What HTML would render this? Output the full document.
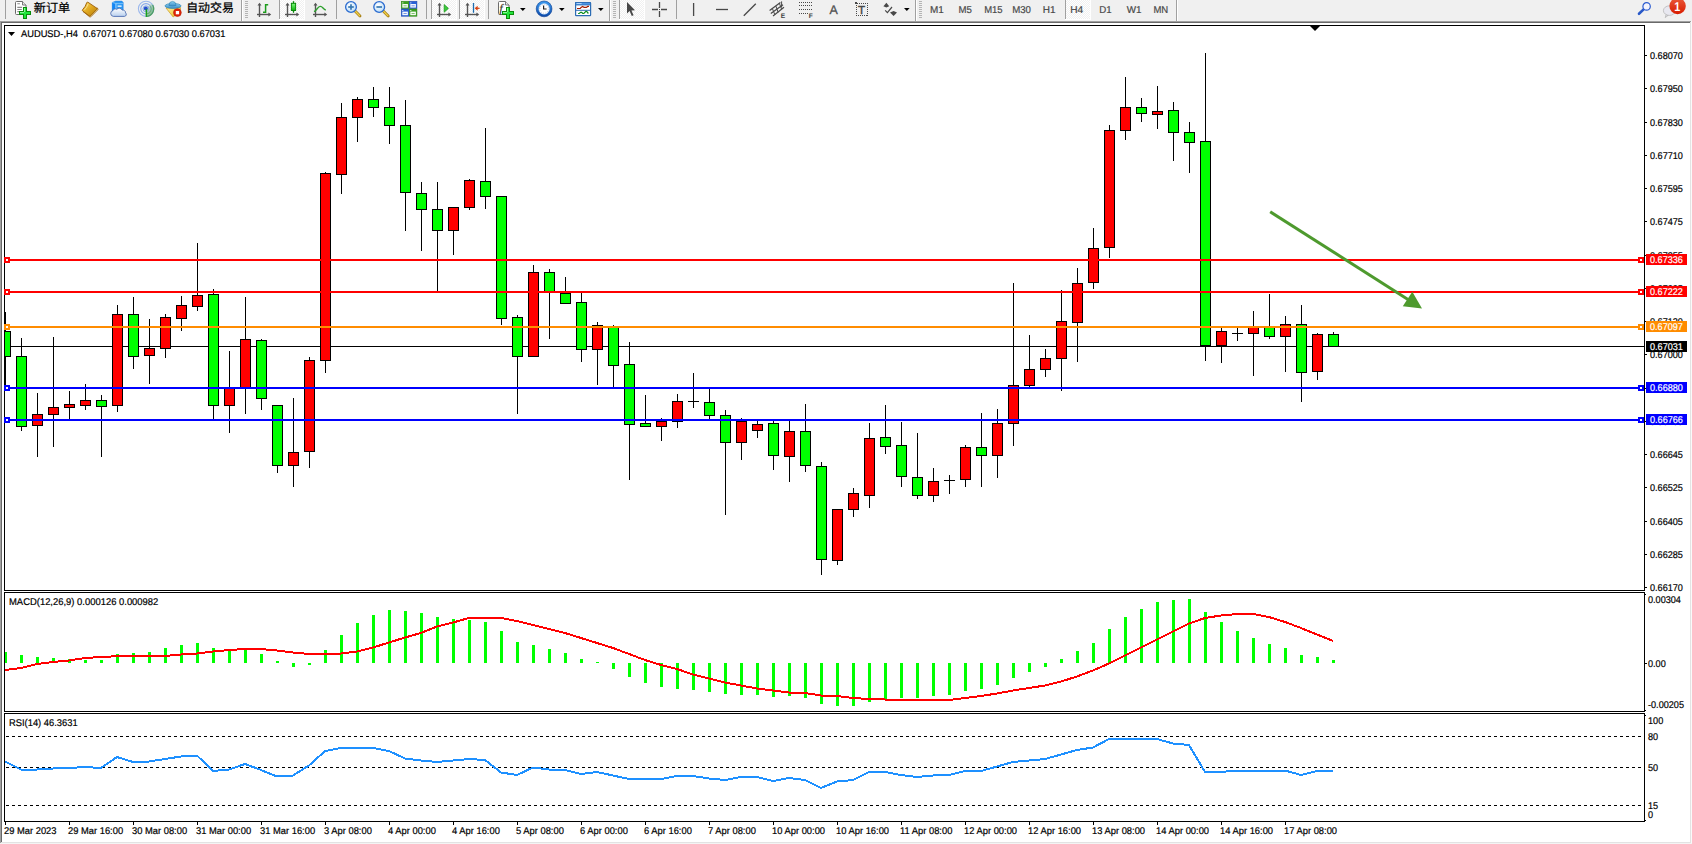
<!DOCTYPE html>
<html><head><meta charset="utf-8"><title>AUDUSD-,H4</title>
<style>
html,body{margin:0;padding:0;background:#fff;}
body{width:1692px;height:844px;overflow:hidden;position:relative;}
svg{position:absolute;left:0;top:0;display:block;}
text{font-family:"Liberation Sans", "Noto Sans CJK SC", sans-serif;text-rendering:geometricPrecision;}
.t{font-size:9.8px;fill:#000;stroke:#000;stroke-width:0.2px;}
.w{font-size:9.8px;fill:#fff;stroke:#fff;stroke-width:0.2px;}
.tf{font-size:10px;fill:#484848;stroke:#484848;stroke-width:0.2px;}
.cj{font-size:12px;fill:#000;stroke:#000;stroke-width:0.25px;}
</style></head><body>
<svg width="1692" height="844" viewBox="0 0 1692 844">
<g shape-rendering="crispEdges">
<rect x="0" y="0" width="1692" height="844" fill="#fff"/>
<rect x="0" y="0" width="1692" height="21" fill="#f0f0f0"/>
<rect x="0" y="21" width="1691" height="1" fill="#a0a0a0"/>
<rect x="0" y="21" width="1" height="822" fill="#a0a0a0"/>
<rect x="1" y="22" width="1689" height="1" fill="#696969"/>
<rect x="1" y="22" width="1" height="820" fill="#696969"/>
<rect x="1690" y="22" width="1" height="821" fill="#e3e3e3"/>
<rect x="1" y="842" width="1690" height="1" fill="#e3e3e3"/>
<rect x="1691" y="21" width="1" height="823" fill="#fafafa"/>
<rect x="0" y="843" width="1692" height="1" fill="#f4f4f4"/>
</g>
<defs>
<pattern id="chk" width="2" height="2" patternUnits="userSpaceOnUse"><rect width="2" height="2" fill="#f0f0f0"/><rect width="1" height="1" fill="#fff"/><rect x="1" y="1" width="1" height="1" fill="#fff"/></pattern>
<linearGradient id="gGreen" x1="0" y1="0" x2="0" y2="1"><stop offset="0" stop-color="#7dfa7d"/><stop offset="1" stop-color="#0cb40c"/></linearGradient>
<linearGradient id="gGold" x1="0" y1="0" x2="1" y2="1"><stop offset="0" stop-color="#f8d860"/><stop offset="0.5" stop-color="#e0a820"/><stop offset="1" stop-color="#b07808"/></linearGradient>
<linearGradient id="gBlue" x1="0" y1="0" x2="0" y2="1"><stop offset="0" stop-color="#5fb4f5"/><stop offset="1" stop-color="#1560c8"/></linearGradient>
<linearGradient id="gCloud" x1="0" y1="0" x2="0" y2="1"><stop offset="0" stop-color="#ffffff"/><stop offset="1" stop-color="#b8cfee"/></linearGradient>
<radialGradient id="gLens" cx="0.4" cy="0.35" r="0.7"><stop offset="0" stop-color="#ffffff"/><stop offset="1" stop-color="#b8dcf8"/></radialGradient>
<linearGradient id="gRed" x1="0" y1="0" x2="0" y2="1"><stop offset="0" stop-color="#ea5a3a"/><stop offset="1" stop-color="#d81c00"/></linearGradient>
<linearGradient id="gHat" x1="0" y1="0" x2="0" y2="1"><stop offset="0" stop-color="#8cd0f0"/><stop offset="1" stop-color="#3c8cc8"/></linearGradient>
<linearGradient id="gFace" x1="0" y1="0" x2="1" y2="1"><stop offset="0" stop-color="#fff0a0"/><stop offset="1" stop-color="#e8b818"/></linearGradient>
<linearGradient id="gClock" x1="0" y1="0" x2="0" y2="1"><stop offset="0" stop-color="#3c9cf0"/><stop offset="1" stop-color="#0c48a8"/></linearGradient>
<linearGradient id="gRadar" x1="0" y1="0" x2="1" y2="1"><stop offset="0" stop-color="#e8f0e8" stop-opacity="0.7"/><stop offset="1" stop-color="#48a848"/></linearGradient>
</defs>
<rect x="5" y="0" width="1" height="19" fill="#a0a0a0" shape-rendering="crispEdges"/>
<g>
<path d="M16.5 1.5h6l3.5 3.5v8.5q0 1-1 1h-8.5q-1 0-1-1v-11q0-1 1-1z" fill="#fff" stroke="#6c6c6c" stroke-width="1"/>
<path d="M22.5 1.5v3.5h3.5" fill="#e8e8e8" stroke="#6c6c6c" stroke-width="0.9"/>
<path d="M17.3 3.8h2.6M17.3 7.4h4.8M17.3 9.5h4.5M17.3 11.6h2" stroke="#8c8c8c" stroke-width="1.1"/>
<g shape-rendering="crispEdges">
<path d="M23 7h4v4h4v4h-4v4h-4v-4h-4v-4h4z" fill="#0a8c0a"/>
<path d="M24 8h2v4h4v2h-4v4h-2v-4h-4v-2h4z" fill="#22e43c"/>
<path d="M24 8h1v4h-1zM20 12h4v1h-4z" fill="#86f896"/>
</g>
</g>
<text x="33.8" y="11.8" class="cj" textLength="36.4" lengthAdjust="spacingAndGlyphs">新订单</text>
<g>
<path d="M83.2 11.6l6.4 5.2q0.6 0.4 1.2 0l7-7q0.4-0.6 0-1.2l-1-0.8-6.8 7z" fill="#f4e4a0" stroke="#9a5c08" stroke-width="0.8" stroke-linejoin="round"/>
<path d="M87.9 2.2l8.9 6q0.5 0.5 0.1 1l-6.5 6.7q-0.6 0.4-1.2 0l-6.6-5q-0.5-0.5-0.1-1.1q3-3 4.3-7.2q0.4-0.8 1.1-0.4z" fill="url(#gGold)" stroke="#9a5c08" stroke-width="0.9" stroke-linejoin="round"/>
<path d="M88.2 3.8q-1.2 3.6-3.8 6.2" stroke="#fff4b8" stroke-width="0.8" fill="none" opacity="0.8"/>
</g>
<g>
<path d="M112.3 2.4l3.4-1.3h6.2l1.3 1.3v9h-10.9z" fill="#2c98f4" stroke="#1c7ce0" stroke-width="0.5"/>
<path d="M112.3 2.4l3.4 1.2v8h-3.4z" fill="#1486f4"/>
<path d="M115.9 3.6v8" stroke="#d8f0ff" stroke-width="0.7"/>
<path d="M112.4 2.4l3.4 1.2h7.2" stroke="#a8dcff" stroke-width="0.6" fill="none"/>
<rect x="117.6" y="5.5" width="4" height="1.3" fill="#f4fbff"/>
<path d="M113.4 16.4a3 3 0 0 1-0.4-5.9 2.6 2.6 0 0 1 3.8-1.2 3.3 3.3 0 0 1 5.4 0.8 2.8 2.8 0 0 1 3.4 2.8 2 2 0 0 1-1.2 3.5z" fill="url(#gCloud)" stroke="#4c6cb0" stroke-width="0.9"/>
</g>
<g fill="none">
<path d="M146 8.8L146 17A8.2 8.2 0 0 0 151.8 3z" fill="url(#gRadar)" stroke="none"/>
<circle cx="146" cy="8.8" r="7.6" stroke="#9cb8ec" stroke-width="1.1"/>
<circle cx="146" cy="8.8" r="5.2" stroke="#86a8e8" stroke-width="1.1"/>
<circle cx="146" cy="8.8" r="3" stroke="#86a8e8" stroke-width="1"/>
<path d="M146 16.4a7.6 7.6 0 0 0 6.6-11.4" stroke="#4c9c64" stroke-width="1.2"/>
<path d="M146 14a5.2 5.2 0 0 0 4.5-7.8" stroke="#6cb078" stroke-width="1.1"/>
<circle cx="145.8" cy="8.6" r="2" fill="#2450d0"/>
<path d="M146.4 9.2v7.6" stroke="#18a018" stroke-width="1.5"/>
</g>
<g>
<path d="M166 8l14.6-0.4-0.8 4-6.6 5.4z" fill="url(#gFace)" stroke="#c89818" stroke-width="0.7" stroke-linejoin="round"/>
<ellipse cx="173" cy="5.9" rx="8" ry="2.5" fill="url(#gHat)" stroke="#2c84b4" stroke-width="0.7"/>
<path d="M168.9 5.4q0.2-4 3.6-4q3.4 0 3.6 4q-3.6 1.2-7.2 0z" fill="url(#gHat)" stroke="#2c84b4" stroke-width="0.6"/>
<circle cx="177.4" cy="12.6" r="3.9" fill="#e02408" stroke="#b81800" stroke-width="0.6"/>
<rect x="175.8" y="11" width="3.3" height="3.3" fill="#fff"/>
</g>
<text x="186.2" y="11.8" class="cj" textLength="47.6" lengthAdjust="spacingAndGlyphs">自动交易</text>
<rect x="241" y="0" width="1" height="21" fill="#a0a0a0" shape-rendering="crispEdges"/>
<rect x="242" y="0" width="1" height="21" fill="#fff" shape-rendering="crispEdges"/>
<g shape-rendering="crispEdges" fill="#b4b4b4">
<rect x="245" y="1" width="3" height="1"/>
<rect x="245" y="3" width="3" height="1"/>
<rect x="245" y="5" width="3" height="1"/>
<rect x="245" y="7" width="3" height="1"/>
<rect x="245" y="9" width="3" height="1"/>
<rect x="245" y="11" width="3" height="1"/>
<rect x="245" y="13" width="3" height="1"/>
<rect x="245" y="15" width="3" height="1"/>
<rect x="245" y="17" width="3" height="1"/>
</g>
<g fill="none" stroke="#555" stroke-width="1.4" stroke-linecap="butt">
<path d="M259.5 4.2V17"/>
<path d="M257.0 14.5H269.6"/>
</g>
<path d="M259.5 2.8l2 2.8h-4z" fill="#555"/>
<path d="M271.2 14.5l-2.8 -2v4z" fill="#555"/>
<path d="M263 12.2h2.6V4.8h2.6" fill="none" stroke="#1c9c1c" stroke-width="1.5"/>
<rect x="279" y="0" width="1" height="19" fill="#a0a0a0" shape-rendering="crispEdges"/>
<g shape-rendering="crispEdges">
<rect x="280" y="0" width="24" height="19" fill="url(#chk)"/>
<rect x="279" y="19" width="26" height="1" fill="#fff"/>
<rect x="304" y="0" width="1" height="20" fill="#fff"/>
</g>
<g fill="none" stroke="#555" stroke-width="1.4" stroke-linecap="butt">
<path d="M287.5 4.2V17"/>
<path d="M285.0 14.5H297.6"/>
</g>
<path d="M287.5 2.8l2 2.8h-4z" fill="#555"/>
<path d="M299.2 14.5l-2.8 -2v4z" fill="#555"/>
<path d="M293.5 1.2V12.8" stroke="#0a8a0a" stroke-width="1.3"/>
<rect x="291.4" y="3.3" width="4.2" height="7.2" fill="url(#gGreen)" stroke="#0a8a0a" stroke-width="1"/>
<g fill="none" stroke="#555" stroke-width="1.4" stroke-linecap="butt">
<path d="M315.5 4.2V17"/>
<path d="M313.0 14.5H325.6"/>
</g>
<path d="M315.5 2.8l2 2.8h-4z" fill="#555"/>
<path d="M327.2 14.5l-2.8 -2v4z" fill="#555"/>
<path d="M314 11.6c2.5-1 3.8-5 6.2-5.2s3 3.2 5.6 3.6" fill="none" stroke="#2ca02c" stroke-width="1.4"/>
<rect x="336" y="0" width="1" height="19" fill="#a0a0a0" shape-rendering="crispEdges"/>
<path d="M354.8 10.8l5.2 5.2" stroke="#a07810" stroke-width="2.8" stroke-linecap="round"/>
<path d="M355.1 11.1l4.6 4.6" stroke="#f0d048" stroke-width="1.4" stroke-linecap="round"/>
<circle cx="351.0" cy="7.0" r="5.4" fill="url(#gLens)" stroke="#2c6cd0" stroke-width="1.3"/>
<path d="M348.2 7.0h5.6" stroke="#3878b0" stroke-width="1.7"/>
<path d="M351.0 4.2v5.6" stroke="#3878b0" stroke-width="1.7"/>
<path d="M383.0 10.8l5.2 5.2" stroke="#a07810" stroke-width="2.8" stroke-linecap="round"/>
<path d="M383.3 11.1l4.6 4.6" stroke="#f0d048" stroke-width="1.4" stroke-linecap="round"/>
<circle cx="379.2" cy="7.0" r="5.4" fill="url(#gLens)" stroke="#2c6cd0" stroke-width="1.3"/>
<path d="M376.4 7.0h5.6" stroke="#3878b0" stroke-width="1.7"/>
<rect x="401.3" y="1.4" width="7.6" height="7.2" fill="#3aa020" stroke="#2c8414" stroke-width="0.6"/>
<rect x="402.3" y="4.0" width="5.6" height="3.6" fill="#fff" opacity="0.95"/>
<rect x="403.5" y="5.4" width="3.2" height="0.9" fill="#3aa020" opacity="0.7"/>
<rect x="402.3" y="2.4" width="1" height="1" fill="#fff"/>
<rect x="409.3" y="1.4" width="7.6" height="7.2" fill="#2860d8" stroke="#1c48b0" stroke-width="0.6"/>
<rect x="410.3" y="4.0" width="5.6" height="3.6" fill="#fff" opacity="0.95"/>
<rect x="411.5" y="5.4" width="3.2" height="0.9" fill="#2860d8" opacity="0.7"/>
<rect x="410.3" y="2.4" width="1" height="1" fill="#fff"/>
<rect x="401.3" y="9.0" width="7.6" height="7.2" fill="#2860d8" stroke="#1c48b0" stroke-width="0.6"/>
<rect x="402.3" y="11.6" width="5.6" height="3.6" fill="#fff" opacity="0.95"/>
<rect x="403.5" y="13.0" width="3.2" height="0.9" fill="#2860d8" opacity="0.7"/>
<rect x="402.3" y="10.0" width="1" height="1" fill="#fff"/>
<rect x="409.3" y="9.0" width="7.6" height="7.2" fill="#3aa020" stroke="#2c8414" stroke-width="0.6"/>
<rect x="410.3" y="11.6" width="5.6" height="3.6" fill="#fff" opacity="0.95"/>
<rect x="411.5" y="13.0" width="3.2" height="0.9" fill="#3aa020" opacity="0.7"/>
<rect x="410.3" y="10.0" width="1" height="1" fill="#fff"/>
<rect x="426" y="0" width="1" height="19" fill="#a0a0a0" shape-rendering="crispEdges"/>
<rect x="431" y="0" width="1" height="19" fill="#a0a0a0" shape-rendering="crispEdges"/>
<g shape-rendering="crispEdges">
<rect x="432" y="0" width="24" height="19" fill="url(#chk)"/>
<rect x="431" y="19" width="26" height="1" fill="#fff"/>
<rect x="456" y="0" width="1" height="20" fill="#fff"/>
</g>
<g fill="none" stroke="#555" stroke-width="1.4" stroke-linecap="butt">
<path d="M439.5 4.2V17"/>
<path d="M437.0 14.5H449.6"/>
</g>
<path d="M439.5 2.8l2 2.8h-4z" fill="#555"/>
<path d="M451.2 14.5l-2.8 -2v4z" fill="#555"/>
<polygon points="444.2,4.6 448.4,8.4 444.2,12.2" fill="#3cc83c" stroke="#1c9c1c" stroke-width="0.8"/>
<rect x="459" y="0" width="1" height="19" fill="#a0a0a0" shape-rendering="crispEdges"/>
<g shape-rendering="crispEdges">
<rect x="460" y="0" width="24" height="19" fill="url(#chk)"/>
<rect x="459" y="19" width="26" height="1" fill="#fff"/>
<rect x="484" y="0" width="1" height="20" fill="#fff"/>
</g>
<g fill="none" stroke="#555" stroke-width="1.4" stroke-linecap="butt">
<path d="M467.5 4.2V17"/>
<path d="M465.0 14.5H477.6"/>
</g>
<path d="M467.5 2.8l2 2.8h-4z" fill="#555"/>
<path d="M479.2 14.5l-2.8 -2v4z" fill="#555"/>
<path d="M473.5 3V12.8" stroke="#1c6cb0" stroke-width="1.3"/>
<path d="M479.6 8.3h-3" stroke="#d84010" stroke-width="1.2"/>
<polygon points="474.6,8.3 477.6,5.8 477.6,10.8" fill="#d84010"/>
<rect x="488" y="0" width="1" height="19" fill="#a0a0a0" shape-rendering="crispEdges"/>
<g>
<path d="M499.5 1.5h6l3.5 3.5v8.5q0 1-1 1h-8.5q-1 0-1-1v-11q0-1 1-1z" fill="#fff" stroke="#6c6c6c" stroke-width="1"/>
<path d="M505.5 1.5v3.5h3.5" fill="#e8e8e8" stroke="#6c6c6c" stroke-width="0.9"/>
<text x="499.6" y="11.6" style="font-family:'Liberation Serif',serif;font-style:italic;font-size:11.5px;fill:#3c3820;stroke:#3c3820;stroke-width:0.2px">f</text>
<g shape-rendering="crispEdges">
<path d="M506 7h4v4h4v4h-4v4h-4v-4h-4v-4h4z" fill="#0a8c0a"/>
<path d="M507 8h2v4h4v2h-4v4h-2v-4h-4v-2h4z" fill="#22e43c"/>
<path d="M507 8h1v4h-1zM503 12h4v1h-4z" fill="#86f896"/>
</g>
</g>
<polygon points="520,8 525.6,8 522.8,11.1" fill="#000"/>
<g>
<circle cx="544.1" cy="8.9" r="7.9" fill="url(#gClock)" stroke="#0c3c90" stroke-width="0.6"/>
<circle cx="544.1" cy="8.9" r="5.3" fill="#fff" stroke="#b8d4f4" stroke-width="0.5"/>
<path d="M543.6 5.4v3.6h3" fill="none" stroke="#202020" stroke-width="1.2"/>
<circle cx="544.1" cy="8.9" r="4.3" fill="none" stroke="#9098a8" stroke-width="0.8" stroke-dasharray="0.6 1.65"/>
</g>
<polygon points="559,8 564.6,8 561.8,11.1" fill="#000"/>
<g>
<rect x="575.6" y="2.6" width="15" height="13" rx="0.6" fill="#fff" stroke="#2c6cb4" stroke-width="1.2"/>
<rect x="575.6" y="2.6" width="15" height="2.4" fill="#4c94e4" stroke="#2c6cb4" stroke-width="0.8"/>
<path d="M576.6 3.5h5" stroke="#c8e4ff" stroke-width="0.8"/>
<path d="M575.6 10.3h15" stroke="#2c6cb4" stroke-width="1"/>
<path d="M577 8.5h3.2l0.8-1.1 1.7-1 1.4 1h2.2l1.4-1h1.3" fill="none" stroke="#a41c00" stroke-width="1.2"/>
<path d="M578.1 13.5h1.1l1.4-1.1h1.1l1 1.1h1.1l2.1-2.2h0.7l1.8 2.2" fill="none" stroke="#0c8c1c" stroke-width="1.2"/>
</g>
<polygon points="598,8 603.6,8 600.8,11.1" fill="#000"/>
<rect x="609" y="0" width="1" height="21" fill="#a0a0a0" shape-rendering="crispEdges"/>
<rect x="610" y="0" width="1" height="21" fill="#fff" shape-rendering="crispEdges"/>
<g shape-rendering="crispEdges" fill="#b4b4b4">
<rect x="613" y="1" width="3" height="1"/>
<rect x="613" y="3" width="3" height="1"/>
<rect x="613" y="5" width="3" height="1"/>
<rect x="613" y="7" width="3" height="1"/>
<rect x="613" y="9" width="3" height="1"/>
<rect x="613" y="11" width="3" height="1"/>
<rect x="613" y="13" width="3" height="1"/>
<rect x="613" y="15" width="3" height="1"/>
<rect x="613" y="17" width="3" height="1"/>
</g>
<rect x="619" y="0" width="1" height="19" fill="#a0a0a0" shape-rendering="crispEdges"/>
<g shape-rendering="crispEdges">
<rect x="620" y="0" width="24" height="19" fill="url(#chk)"/>
<rect x="619" y="19" width="26" height="1" fill="#fff"/>
<rect x="644" y="0" width="1" height="20" fill="#fff"/>
</g>
<path d="M627 2v11.4l2.6-2.4 2.2 5 1.8-0.8-2.2-4.8 3.6-0.2z" fill="#484848"/>
<path d="M659.5 2v6M659.5 11v6M652 9.5h6M661 9.5h6" stroke="#484848" stroke-width="1.3" fill="none"/>
<rect x="659" y="9" width="1" height="1" fill="#484848"/>
<rect x="676" y="0" width="1" height="19" fill="#a0a0a0" shape-rendering="crispEdges"/>
<path d="M693.6 3V16" stroke="#484848" stroke-width="1.3"/>
<path d="M716 9.5h12" stroke="#484848" stroke-width="1.3"/>
<path d="M743.8 15.8L755.8 3.8" stroke="#484848" stroke-width="1.3"/>
<g stroke="#484848" fill="none">
<path d="M769.6 10.6L780.4 2.4M770.8 13.6L783 4.8M773 16L784 7.2" stroke-width="1.2"/>
<path d="M772.4 8.6l2.4 6M775.8 6l2.4 6.4M779.4 3.4l2.2 5.8M781.6 1.4v6" stroke-width="1"/>
</g>
<text x="780.8" y="17.8" style="font-size:6.6px;font-weight:bold;fill:#404040">E</text>
<g stroke="#484848" stroke-width="1" stroke-dasharray="1 1" shape-rendering="crispEdges">
<path d="M799 2.5h13M799 5.5h13M799 9.5h13M799 13.5h9"/>
</g>
<text x="808.8" y="17.8" style="font-size:6.6px;font-weight:bold;fill:#404040">F</text>
<text x="829.6" y="13.8" style="font-size:12.4px;fill:#505050;stroke:#505050;stroke-width:0.3px">A</text>
<rect x="856.5" y="3.5" width="11" height="12" fill="none" stroke="#484848" stroke-width="1" stroke-dasharray="1 1" shape-rendering="crispEdges"/>
<rect x="855" y="2" width="2" height="2" fill="#484848" shape-rendering="crispEdges"/>
<text x="857.9" y="13.8" style="font-size:11.6px;fill:#484848;stroke:#484848;stroke-width:0.45px">T</text>
<g fill="#484848">
<polygon points="886.4,2.8 889.2,6.2 886.4,7.6 883.4,6.2"/>
<polygon points="893.6,16 897,12.4 893.6,11 890,12.4"/>
<path d="M885.2 10.4l2.2 2.2 4.6-5.6" fill="none" stroke="#484848" stroke-width="1.2"/>
</g>
<polygon points="904,8 909.6,8 906.8,11.1" fill="#000"/>
<rect x="915" y="0" width="1" height="21" fill="#a0a0a0" shape-rendering="crispEdges"/>
<rect x="916" y="0" width="1" height="21" fill="#fff" shape-rendering="crispEdges"/>
<g shape-rendering="crispEdges" fill="#b4b4b4">
<rect x="919" y="1" width="3" height="1"/>
<rect x="919" y="3" width="3" height="1"/>
<rect x="919" y="5" width="3" height="1"/>
<rect x="919" y="7" width="3" height="1"/>
<rect x="919" y="9" width="3" height="1"/>
<rect x="919" y="11" width="3" height="1"/>
<rect x="919" y="13" width="3" height="1"/>
<rect x="919" y="15" width="3" height="1"/>
<rect x="919" y="17" width="3" height="1"/>
</g>
<rect x="1065" y="0" width="1" height="19" fill="#a0a0a0" shape-rendering="crispEdges"/>
<g shape-rendering="crispEdges">
<rect x="1066" y="0" width="24" height="19" fill="url(#chk)"/>
<rect x="1065" y="19" width="26" height="1" fill="#fff"/>
<rect x="1090" y="0" width="1" height="20" fill="#fff"/>
</g>
<text x="930.0" y="12.8" class="tf" textLength="13.8" lengthAdjust="spacingAndGlyphs">M1</text>
<text x="958.4" y="12.8" class="tf" textLength="13.4" lengthAdjust="spacingAndGlyphs">M5</text>
<text x="984.2" y="12.8" class="tf" textLength="18.4" lengthAdjust="spacingAndGlyphs">M15</text>
<text x="1012.2" y="12.8" class="tf" textLength="18.8" lengthAdjust="spacingAndGlyphs">M30</text>
<text x="1042.8" y="12.8" class="tf" textLength="12.8" lengthAdjust="spacingAndGlyphs">H1</text>
<text x="1070.2" y="12.8" class="tf" textLength="13.0" lengthAdjust="spacingAndGlyphs">H4</text>
<text x="1099.2" y="12.8" class="tf" textLength="12.4" lengthAdjust="spacingAndGlyphs">D1</text>
<text x="1126.8" y="12.8" class="tf" textLength="14.8" lengthAdjust="spacingAndGlyphs">W1</text>
<text x="1153.4" y="12.8" class="tf" textLength="14.8" lengthAdjust="spacingAndGlyphs">MN</text>
<rect x="1176" y="0" width="1" height="21" fill="#a0a0a0" shape-rendering="crispEdges"/>
<rect x="1177" y="0" width="1" height="21" fill="#fff" shape-rendering="crispEdges"/>
<g>
<path d="M1643.6 9.4l-4.6 4.4" stroke="#2858c8" stroke-width="2.6" stroke-linecap="round"/>
<circle cx="1646.6" cy="6.4" r="3.7" fill="#f4f4fc" stroke="#2c5cd0" stroke-width="1.2"/>
</g>
<g>
<path d="M1666 14.6l-0.8 3 3.2-2.4z" fill="#e4e4ec" stroke="#a8a8a8" stroke-width="0.6"/>
<ellipse cx="1669.4" cy="10.6" rx="6" ry="4.8" fill="#e8e8f0" stroke="#b0b0b0" stroke-width="0.7"/>
<circle cx="1677.6" cy="6" r="8.2" fill="url(#gRed)"/>
<text transform="matrix(0.86 0 0 1 1674.3 10.8)" style="font-size:12.6px;font-weight:bold;fill:#fff">1</text>
</g>
<g shape-rendering="crispEdges" fill="#000">
<rect x="4" y="25" width="1641" height="1"/>
<rect x="4" y="25" width="1" height="566"/>
<rect x="4" y="590" width="1641" height="1"/>
<rect x="1644" y="25" width="1" height="566"/>
<rect x="1644" y="592" width="1" height="120"/>
<rect x="1644" y="713" width="1" height="109"/>
<rect x="4" y="592" width="1641" height="1"/>
<rect x="4" y="592" width="1" height="120"/>
<rect x="4" y="711" width="1641" height="1"/>
<rect x="4" y="713" width="1641" height="1"/>
<rect x="4" y="713" width="1" height="109"/>
<rect x="4" y="821" width="1641" height="1"/>
</g>
<polygon points="1310,26 1320,26 1315,31" fill="#000"/>
<defs><clipPath id="cp"><rect x="5" y="26" width="1639" height="564"/></clipPath></defs>
<g shape-rendering="crispEdges">
<rect x="5" y="346" width="1639" height="1" fill="#000"/>
</g>
<g shape-rendering="crispEdges" clip-path="url(#cp)">
<rect x="5" y="312" width="1" height="76" fill="#000"/>
<rect x="0" y="331" width="11" height="26" fill="#000"/>
<rect x="1" y="332" width="9" height="24" fill="#00ff00"/>
<rect x="21" y="338" width="1" height="93" fill="#000"/>
<rect x="16" y="356" width="11" height="71" fill="#000"/>
<rect x="17" y="357" width="9" height="69" fill="#00ff00"/>
<rect x="37" y="393" width="1" height="64" fill="#000"/>
<rect x="32" y="414" width="11" height="12" fill="#000"/>
<rect x="33" y="415" width="9" height="10" fill="#ff0000"/>
<rect x="53" y="337" width="1" height="110" fill="#000"/>
<rect x="48" y="407" width="11" height="8" fill="#000"/>
<rect x="49" y="408" width="9" height="6" fill="#ff0000"/>
<rect x="69" y="391" width="1" height="29" fill="#000"/>
<rect x="64" y="404" width="11" height="4" fill="#000"/>
<rect x="65" y="405" width="9" height="2" fill="#ff0000"/>
<rect x="85" y="384" width="1" height="26" fill="#000"/>
<rect x="80" y="400" width="11" height="6" fill="#000"/>
<rect x="81" y="401" width="9" height="4" fill="#ff0000"/>
<rect x="101" y="395" width="1" height="62" fill="#000"/>
<rect x="96" y="400" width="11" height="7" fill="#000"/>
<rect x="97" y="401" width="9" height="5" fill="#00ff00"/>
<rect x="117" y="305" width="1" height="107" fill="#000"/>
<rect x="112" y="314" width="11" height="92" fill="#000"/>
<rect x="113" y="315" width="9" height="90" fill="#ff0000"/>
<rect x="133" y="297" width="1" height="72" fill="#000"/>
<rect x="128" y="314" width="11" height="43" fill="#000"/>
<rect x="129" y="315" width="9" height="41" fill="#00ff00"/>
<rect x="149" y="319" width="1" height="65" fill="#000"/>
<rect x="144" y="348" width="11" height="8" fill="#000"/>
<rect x="145" y="349" width="9" height="6" fill="#ff0000"/>
<rect x="165" y="314" width="1" height="44" fill="#000"/>
<rect x="160" y="317" width="11" height="32" fill="#000"/>
<rect x="161" y="318" width="9" height="30" fill="#ff0000"/>
<rect x="181" y="296" width="1" height="35" fill="#000"/>
<rect x="176" y="305" width="11" height="14" fill="#000"/>
<rect x="177" y="306" width="9" height="12" fill="#ff0000"/>
<rect x="197" y="243" width="1" height="68" fill="#000"/>
<rect x="192" y="295" width="11" height="12" fill="#000"/>
<rect x="193" y="296" width="9" height="10" fill="#ff0000"/>
<rect x="213" y="289" width="1" height="130" fill="#000"/>
<rect x="208" y="294" width="11" height="112" fill="#000"/>
<rect x="209" y="295" width="9" height="110" fill="#00ff00"/>
<rect x="229" y="351" width="1" height="82" fill="#000"/>
<rect x="224" y="388" width="11" height="18" fill="#000"/>
<rect x="225" y="389" width="9" height="16" fill="#ff0000"/>
<rect x="245" y="297" width="1" height="117" fill="#000"/>
<rect x="240" y="339" width="11" height="50" fill="#000"/>
<rect x="241" y="340" width="9" height="48" fill="#ff0000"/>
<rect x="261" y="339" width="1" height="71" fill="#000"/>
<rect x="256" y="340" width="11" height="59" fill="#000"/>
<rect x="257" y="341" width="9" height="57" fill="#00ff00"/>
<rect x="277" y="405" width="1" height="68" fill="#000"/>
<rect x="272" y="405" width="11" height="61" fill="#000"/>
<rect x="273" y="406" width="9" height="59" fill="#00ff00"/>
<rect x="293" y="398" width="1" height="89" fill="#000"/>
<rect x="288" y="452" width="11" height="14" fill="#000"/>
<rect x="289" y="453" width="9" height="12" fill="#ff0000"/>
<rect x="309" y="357" width="1" height="111" fill="#000"/>
<rect x="304" y="360" width="11" height="92" fill="#000"/>
<rect x="305" y="361" width="9" height="90" fill="#ff0000"/>
<rect x="325" y="172" width="1" height="201" fill="#000"/>
<rect x="320" y="173" width="11" height="188" fill="#000"/>
<rect x="321" y="174" width="9" height="186" fill="#ff0000"/>
<rect x="341" y="103" width="1" height="91" fill="#000"/>
<rect x="336" y="117" width="11" height="58" fill="#000"/>
<rect x="337" y="118" width="9" height="56" fill="#ff0000"/>
<rect x="357" y="97" width="1" height="45" fill="#000"/>
<rect x="352" y="99" width="11" height="19" fill="#000"/>
<rect x="353" y="100" width="9" height="17" fill="#ff0000"/>
<rect x="373" y="87" width="1" height="30" fill="#000"/>
<rect x="368" y="99" width="11" height="9" fill="#000"/>
<rect x="369" y="100" width="9" height="7" fill="#00ff00"/>
<rect x="389" y="87" width="1" height="57" fill="#000"/>
<rect x="384" y="107" width="11" height="19" fill="#000"/>
<rect x="385" y="108" width="9" height="17" fill="#00ff00"/>
<rect x="405" y="100" width="1" height="131" fill="#000"/>
<rect x="400" y="125" width="11" height="68" fill="#000"/>
<rect x="401" y="126" width="9" height="66" fill="#00ff00"/>
<rect x="421" y="182" width="1" height="69" fill="#000"/>
<rect x="416" y="193" width="11" height="17" fill="#000"/>
<rect x="417" y="194" width="9" height="15" fill="#00ff00"/>
<rect x="437" y="182" width="1" height="109" fill="#000"/>
<rect x="432" y="209" width="11" height="22" fill="#000"/>
<rect x="433" y="210" width="9" height="20" fill="#00ff00"/>
<rect x="453" y="207" width="1" height="48" fill="#000"/>
<rect x="448" y="207" width="11" height="24" fill="#000"/>
<rect x="449" y="208" width="9" height="22" fill="#ff0000"/>
<rect x="469" y="179" width="1" height="31" fill="#000"/>
<rect x="464" y="180" width="11" height="28" fill="#000"/>
<rect x="465" y="181" width="9" height="26" fill="#ff0000"/>
<rect x="485" y="128" width="1" height="81" fill="#000"/>
<rect x="480" y="181" width="11" height="16" fill="#000"/>
<rect x="481" y="182" width="9" height="14" fill="#00ff00"/>
<rect x="501" y="196" width="1" height="129" fill="#000"/>
<rect x="496" y="196" width="11" height="123" fill="#000"/>
<rect x="497" y="197" width="9" height="121" fill="#00ff00"/>
<rect x="517" y="315" width="1" height="99" fill="#000"/>
<rect x="512" y="317" width="11" height="40" fill="#000"/>
<rect x="513" y="318" width="9" height="38" fill="#00ff00"/>
<rect x="533" y="265" width="1" height="92" fill="#000"/>
<rect x="528" y="272" width="11" height="85" fill="#000"/>
<rect x="529" y="273" width="9" height="83" fill="#ff0000"/>
<rect x="549" y="269" width="1" height="70" fill="#000"/>
<rect x="544" y="272" width="11" height="20" fill="#000"/>
<rect x="545" y="273" width="9" height="18" fill="#00ff00"/>
<rect x="565" y="277" width="1" height="27" fill="#000"/>
<rect x="560" y="293" width="11" height="11" fill="#000"/>
<rect x="561" y="294" width="9" height="9" fill="#00ff00"/>
<rect x="581" y="293" width="1" height="69" fill="#000"/>
<rect x="576" y="302" width="11" height="48" fill="#000"/>
<rect x="577" y="303" width="9" height="46" fill="#00ff00"/>
<rect x="597" y="322" width="1" height="63" fill="#000"/>
<rect x="592" y="325" width="11" height="25" fill="#000"/>
<rect x="593" y="326" width="9" height="23" fill="#ff0000"/>
<rect x="613" y="325" width="1" height="62" fill="#000"/>
<rect x="608" y="327" width="11" height="39" fill="#000"/>
<rect x="609" y="328" width="9" height="37" fill="#00ff00"/>
<rect x="629" y="342" width="1" height="138" fill="#000"/>
<rect x="624" y="364" width="11" height="61" fill="#000"/>
<rect x="625" y="365" width="9" height="59" fill="#00ff00"/>
<rect x="645" y="395" width="1" height="32" fill="#000"/>
<rect x="640" y="423" width="11" height="4" fill="#000"/>
<rect x="641" y="424" width="9" height="2" fill="#00ff00"/>
<rect x="661" y="418" width="1" height="23" fill="#000"/>
<rect x="656" y="421" width="11" height="6" fill="#000"/>
<rect x="657" y="422" width="9" height="4" fill="#ff0000"/>
<rect x="677" y="394" width="1" height="34" fill="#000"/>
<rect x="672" y="401" width="11" height="21" fill="#000"/>
<rect x="673" y="402" width="9" height="19" fill="#ff0000"/>
<rect x="693" y="373" width="1" height="35" fill="#000"/>
<rect x="688" y="401" width="11" height="1" fill="#000"/>
<rect x="709" y="388" width="1" height="31" fill="#000"/>
<rect x="704" y="402" width="11" height="14" fill="#000"/>
<rect x="705" y="403" width="9" height="12" fill="#00ff00"/>
<rect x="725" y="410" width="1" height="105" fill="#000"/>
<rect x="720" y="415" width="11" height="28" fill="#000"/>
<rect x="721" y="416" width="9" height="26" fill="#00ff00"/>
<rect x="741" y="418" width="1" height="42" fill="#000"/>
<rect x="736" y="421" width="11" height="22" fill="#000"/>
<rect x="737" y="422" width="9" height="20" fill="#ff0000"/>
<rect x="757" y="421" width="1" height="17" fill="#000"/>
<rect x="752" y="424" width="11" height="7" fill="#000"/>
<rect x="753" y="425" width="9" height="5" fill="#ff0000"/>
<rect x="773" y="421" width="1" height="49" fill="#000"/>
<rect x="768" y="423" width="11" height="33" fill="#000"/>
<rect x="769" y="424" width="9" height="31" fill="#00ff00"/>
<rect x="789" y="421" width="1" height="61" fill="#000"/>
<rect x="784" y="431" width="11" height="26" fill="#000"/>
<rect x="785" y="432" width="9" height="24" fill="#ff0000"/>
<rect x="805" y="404" width="1" height="68" fill="#000"/>
<rect x="800" y="431" width="11" height="35" fill="#000"/>
<rect x="801" y="432" width="9" height="33" fill="#00ff00"/>
<rect x="821" y="462" width="1" height="113" fill="#000"/>
<rect x="816" y="466" width="11" height="94" fill="#000"/>
<rect x="817" y="467" width="9" height="92" fill="#00ff00"/>
<rect x="837" y="509" width="1" height="56" fill="#000"/>
<rect x="832" y="509" width="11" height="52" fill="#000"/>
<rect x="833" y="510" width="9" height="50" fill="#ff0000"/>
<rect x="853" y="488" width="1" height="29" fill="#000"/>
<rect x="848" y="493" width="11" height="17" fill="#000"/>
<rect x="849" y="494" width="9" height="15" fill="#ff0000"/>
<rect x="869" y="423" width="1" height="85" fill="#000"/>
<rect x="864" y="438" width="11" height="58" fill="#000"/>
<rect x="865" y="439" width="9" height="56" fill="#ff0000"/>
<rect x="885" y="405" width="1" height="49" fill="#000"/>
<rect x="880" y="437" width="11" height="10" fill="#000"/>
<rect x="881" y="438" width="9" height="8" fill="#00ff00"/>
<rect x="901" y="422" width="1" height="65" fill="#000"/>
<rect x="896" y="445" width="11" height="32" fill="#000"/>
<rect x="897" y="446" width="9" height="30" fill="#00ff00"/>
<rect x="917" y="433" width="1" height="66" fill="#000"/>
<rect x="912" y="477" width="11" height="19" fill="#000"/>
<rect x="913" y="478" width="9" height="17" fill="#00ff00"/>
<rect x="933" y="468" width="1" height="34" fill="#000"/>
<rect x="928" y="481" width="11" height="15" fill="#000"/>
<rect x="929" y="482" width="9" height="13" fill="#ff0000"/>
<rect x="949" y="475" width="1" height="19" fill="#000"/>
<rect x="944" y="480" width="11" height="1" fill="#000"/>
<rect x="965" y="445" width="1" height="42" fill="#000"/>
<rect x="960" y="447" width="11" height="33" fill="#000"/>
<rect x="961" y="448" width="9" height="31" fill="#ff0000"/>
<rect x="981" y="413" width="1" height="74" fill="#000"/>
<rect x="976" y="447" width="11" height="9" fill="#000"/>
<rect x="977" y="448" width="9" height="7" fill="#00ff00"/>
<rect x="997" y="409" width="1" height="69" fill="#000"/>
<rect x="992" y="423" width="11" height="33" fill="#000"/>
<rect x="993" y="424" width="9" height="31" fill="#ff0000"/>
<rect x="1013" y="283" width="1" height="163" fill="#000"/>
<rect x="1008" y="385" width="11" height="39" fill="#000"/>
<rect x="1009" y="386" width="9" height="37" fill="#ff0000"/>
<rect x="1029" y="335" width="1" height="52" fill="#000"/>
<rect x="1024" y="369" width="11" height="17" fill="#000"/>
<rect x="1025" y="370" width="9" height="15" fill="#ff0000"/>
<rect x="1045" y="349" width="1" height="28" fill="#000"/>
<rect x="1040" y="358" width="11" height="12" fill="#000"/>
<rect x="1041" y="359" width="9" height="10" fill="#ff0000"/>
<rect x="1061" y="290" width="1" height="101" fill="#000"/>
<rect x="1056" y="321" width="11" height="38" fill="#000"/>
<rect x="1057" y="322" width="9" height="36" fill="#ff0000"/>
<rect x="1077" y="268" width="1" height="94" fill="#000"/>
<rect x="1072" y="283" width="11" height="40" fill="#000"/>
<rect x="1073" y="284" width="9" height="38" fill="#ff0000"/>
<rect x="1093" y="228" width="1" height="61" fill="#000"/>
<rect x="1088" y="248" width="11" height="35" fill="#000"/>
<rect x="1089" y="249" width="9" height="33" fill="#ff0000"/>
<rect x="1109" y="125" width="1" height="133" fill="#000"/>
<rect x="1104" y="130" width="11" height="118" fill="#000"/>
<rect x="1105" y="131" width="9" height="116" fill="#ff0000"/>
<rect x="1125" y="77" width="1" height="63" fill="#000"/>
<rect x="1120" y="107" width="11" height="24" fill="#000"/>
<rect x="1121" y="108" width="9" height="22" fill="#ff0000"/>
<rect x="1141" y="98" width="1" height="24" fill="#000"/>
<rect x="1136" y="107" width="11" height="7" fill="#000"/>
<rect x="1137" y="108" width="9" height="5" fill="#00ff00"/>
<rect x="1157" y="86" width="1" height="43" fill="#000"/>
<rect x="1152" y="111" width="11" height="4" fill="#000"/>
<rect x="1153" y="112" width="9" height="2" fill="#ff0000"/>
<rect x="1173" y="102" width="1" height="59" fill="#000"/>
<rect x="1168" y="110" width="11" height="23" fill="#000"/>
<rect x="1169" y="111" width="9" height="21" fill="#00ff00"/>
<rect x="1189" y="122" width="1" height="51" fill="#000"/>
<rect x="1184" y="132" width="11" height="11" fill="#000"/>
<rect x="1185" y="133" width="9" height="9" fill="#00ff00"/>
<rect x="1205" y="53" width="1" height="308" fill="#000"/>
<rect x="1200" y="141" width="11" height="205" fill="#000"/>
<rect x="1201" y="142" width="9" height="203" fill="#00ff00"/>
<rect x="1221" y="328" width="1" height="35" fill="#000"/>
<rect x="1216" y="331" width="11" height="15" fill="#000"/>
<rect x="1217" y="332" width="9" height="13" fill="#ff0000"/>
<rect x="1237" y="328" width="1" height="13" fill="#000"/>
<rect x="1232" y="333" width="11" height="1" fill="#000"/>
<rect x="1253" y="311" width="1" height="65" fill="#000"/>
<rect x="1248" y="327" width="11" height="7" fill="#000"/>
<rect x="1249" y="328" width="9" height="5" fill="#ff0000"/>
<rect x="1269" y="294" width="1" height="45" fill="#000"/>
<rect x="1264" y="327" width="11" height="10" fill="#000"/>
<rect x="1265" y="328" width="9" height="8" fill="#00ff00"/>
<rect x="1285" y="316" width="1" height="56" fill="#000"/>
<rect x="1280" y="324" width="11" height="13" fill="#000"/>
<rect x="1281" y="325" width="9" height="11" fill="#ff0000"/>
<rect x="1301" y="305" width="1" height="97" fill="#000"/>
<rect x="1296" y="324" width="11" height="49" fill="#000"/>
<rect x="1297" y="325" width="9" height="47" fill="#00ff00"/>
<rect x="1317" y="333" width="1" height="47" fill="#000"/>
<rect x="1312" y="334" width="11" height="38" fill="#000"/>
<rect x="1313" y="335" width="9" height="36" fill="#ff0000"/>
<rect x="1333" y="332" width="1" height="15" fill="#000"/>
<rect x="1328" y="334" width="11" height="13" fill="#000"/>
<rect x="1329" y="335" width="9" height="11" fill="#00ff00"/>
</g>
<g shape-rendering="crispEdges">
<rect x="5" y="259" width="1639" height="2" fill="#ff0000"/>
<rect x="4" y="257" width="6" height="6" fill="#ff0000"/>
<rect x="6" y="259" width="2" height="2" fill="#fff"/>
<rect x="1638" y="257" width="6" height="6" fill="#ff0000"/>
<rect x="1640" y="259" width="2" height="2" fill="#fff"/>
<rect x="5" y="291" width="1639" height="2" fill="#ff0000"/>
<rect x="4" y="289" width="6" height="6" fill="#ff0000"/>
<rect x="6" y="291" width="2" height="2" fill="#fff"/>
<rect x="1638" y="289" width="6" height="6" fill="#ff0000"/>
<rect x="1640" y="291" width="2" height="2" fill="#fff"/>
<rect x="5" y="326" width="1639" height="2" fill="#ff8c00"/>
<rect x="4" y="324" width="6" height="6" fill="#ff8c00"/>
<rect x="6" y="326" width="2" height="2" fill="#fff"/>
<rect x="1638" y="324" width="6" height="6" fill="#ff8c00"/>
<rect x="1640" y="326" width="2" height="2" fill="#fff"/>
<rect x="5" y="387" width="1639" height="2" fill="#0000ff"/>
<rect x="4" y="385" width="6" height="6" fill="#0000ff"/>
<rect x="6" y="387" width="2" height="2" fill="#fff"/>
<rect x="1638" y="385" width="6" height="6" fill="#0000ff"/>
<rect x="1640" y="387" width="2" height="2" fill="#fff"/>
<rect x="5" y="419" width="1639" height="2" fill="#0000ff"/>
<rect x="4" y="417" width="6" height="6" fill="#0000ff"/>
<rect x="6" y="419" width="2" height="2" fill="#fff"/>
<rect x="1638" y="417" width="6" height="6" fill="#0000ff"/>
<rect x="1640" y="419" width="2" height="2" fill="#fff"/>
</g>
<g fill="#4e9a2e" stroke="none">
<line x1="1270.2" y1="211.8" x2="1408" y2="299.4" stroke="#4e9a2e" stroke-width="3"/>
<polygon points="1412.3,291.8 1402.8,306.3 1422,308.4"/>
</g>
<g shape-rendering="crispEdges" fill="#00ff00">
<rect x="5" y="652" width="2" height="11"/>
<rect x="20" y="655" width="3" height="8"/>
<rect x="36" y="657" width="3" height="6"/>
<rect x="52" y="658" width="3" height="5"/>
<rect x="68" y="659" width="3" height="4"/>
<rect x="84" y="660" width="3" height="3"/>
<rect x="100" y="660" width="3" height="3"/>
<rect x="116" y="654" width="3" height="9"/>
<rect x="132" y="653" width="3" height="10"/>
<rect x="148" y="652" width="3" height="11"/>
<rect x="164" y="648" width="3" height="15"/>
<rect x="180" y="645" width="3" height="18"/>
<rect x="196" y="643" width="3" height="20"/>
<rect x="212" y="648" width="3" height="15"/>
<rect x="228" y="651" width="3" height="12"/>
<rect x="244" y="650" width="3" height="13"/>
<rect x="260" y="654" width="3" height="9"/>
<rect x="276" y="661" width="3" height="2"/>
<rect x="292" y="663" width="3" height="4"/>
<rect x="308" y="663" width="3" height="2"/>
<rect x="324" y="650" width="3" height="13"/>
<rect x="340" y="635" width="3" height="28"/>
<rect x="356" y="623" width="3" height="40"/>
<rect x="372" y="615" width="3" height="48"/>
<rect x="388" y="610" width="3" height="53"/>
<rect x="404" y="611" width="3" height="52"/>
<rect x="420" y="613" width="3" height="50"/>
<rect x="436" y="617" width="3" height="46"/>
<rect x="452" y="619" width="3" height="44"/>
<rect x="468" y="620" width="3" height="43"/>
<rect x="484" y="622" width="3" height="41"/>
<rect x="500" y="631" width="3" height="32"/>
<rect x="516" y="642" width="3" height="21"/>
<rect x="532" y="645" width="3" height="18"/>
<rect x="548" y="649" width="3" height="14"/>
<rect x="564" y="653" width="3" height="10"/>
<rect x="580" y="659" width="3" height="4"/>
<rect x="596" y="662" width="3" height="1"/>
<rect x="612" y="663" width="3" height="6"/>
<rect x="628" y="663" width="3" height="14"/>
<rect x="644" y="663" width="3" height="20"/>
<rect x="660" y="663" width="3" height="24"/>
<rect x="676" y="663" width="3" height="26"/>
<rect x="692" y="663" width="3" height="27"/>
<rect x="708" y="663" width="3" height="29"/>
<rect x="724" y="663" width="3" height="31"/>
<rect x="740" y="663" width="3" height="32"/>
<rect x="756" y="663" width="3" height="32"/>
<rect x="772" y="663" width="3" height="34"/>
<rect x="788" y="663" width="3" height="33"/>
<rect x="804" y="663" width="3" height="35"/>
<rect x="820" y="663" width="3" height="41"/>
<rect x="836" y="663" width="3" height="43"/>
<rect x="852" y="663" width="3" height="43"/>
<rect x="868" y="663" width="3" height="39"/>
<rect x="884" y="663" width="3" height="37"/>
<rect x="900" y="663" width="3" height="35"/>
<rect x="916" y="663" width="3" height="35"/>
<rect x="932" y="663" width="3" height="33"/>
<rect x="948" y="663" width="3" height="32"/>
<rect x="964" y="663" width="3" height="28"/>
<rect x="980" y="663" width="3" height="26"/>
<rect x="996" y="663" width="3" height="22"/>
<rect x="1012" y="663" width="3" height="15"/>
<rect x="1028" y="663" width="3" height="9"/>
<rect x="1044" y="663" width="3" height="4"/>
<rect x="1060" y="659" width="3" height="4"/>
<rect x="1076" y="651" width="3" height="12"/>
<rect x="1092" y="643" width="3" height="20"/>
<rect x="1108" y="629" width="3" height="34"/>
<rect x="1124" y="617" width="3" height="46"/>
<rect x="1140" y="609" width="3" height="54"/>
<rect x="1156" y="602" width="3" height="61"/>
<rect x="1172" y="600" width="3" height="63"/>
<rect x="1188" y="599" width="3" height="64"/>
<rect x="1204" y="612" width="3" height="51"/>
<rect x="1220" y="622" width="3" height="41"/>
<rect x="1236" y="631" width="3" height="32"/>
<rect x="1252" y="638" width="3" height="25"/>
<rect x="1268" y="644" width="3" height="19"/>
<rect x="1284" y="648" width="3" height="15"/>
<rect x="1300" y="655" width="3" height="8"/>
<rect x="1316" y="657" width="3" height="6"/>
<rect x="1332" y="660" width="3" height="3"/>
</g>
<polyline points="5,670.0 21,668.0 37,664.0 53,662.0 69,660.5 85,658.0 101,657.0 117,656.2 133,656.0 149,656.0 165,656.0 181,654.5 197,653.5 213,651.5 229,650.0 245,649.0 261,649.0 277,650.5 293,652.5 309,654.0 325,654.0 341,653.5 357,651.5 373,647.5 389,642.5 405,637.5 421,633.0 437,626.5 453,622.5 469,618.0 485,618.0 501,618.0 517,621.0 533,625.0 549,629.0 565,633.0 581,638.0 597,643.0 613,648.0 629,654.0 645,660.0 661,665.0 677,669.0 693,674.5 709,678.5 725,682.5 741,685.5 757,688.5 773,690.5 789,692.5 805,693.0 821,695.5 837,696.0 853,698.0 869,699.0 885,699.5 901,700.0 917,700.0 933,700.0 949,700.0 965,698.0 981,696.0 997,693.5 1013,690.5 1029,688.0 1045,685.5 1061,681.5 1077,676.5 1093,670.5 1109,663.5 1125,655.5 1141,647.5 1157,639.5 1173,631.5 1189,623.5 1205,618.0 1221,615.5 1237,614.0 1253,614.0 1269,617.0 1285,622.0 1301,628.0 1317,634.5 1333,641.0" fill="none" stroke="#ff0000" stroke-width="2" stroke-linejoin="round" shape-rendering="crispEdges"/>
<g shape-rendering="crispEdges" stroke="#000" stroke-width="1" stroke-dasharray="3 3">
<line x1="6" y1="736.5" x2="1644" y2="736.5"/>
<line x1="6" y1="767.5" x2="1644" y2="767.5"/>
<line x1="6" y1="805.5" x2="1644" y2="805.5"/>
</g>
<polyline points="5,761.5 21,769.5 37,769.5 53,768.5 69,768.0 85,767.0 101,768.0 117,757.0 133,762.0 149,761.5 165,759.0 181,756.5 197,755.5 213,771.0 229,769.5 245,764.0 261,770.0 277,776.5 293,775.5 309,765.5 325,751.0 341,748.0 357,747.5 373,748.0 389,751.0 405,758.5 421,760.5 437,762.0 453,760.5 469,759.0 485,760.0 501,772.5 517,775.0 533,767.5 549,769.5 565,770.0 581,774.0 597,772.0 613,775.5 629,779.0 645,779.0 661,779.0 677,776.0 693,776.0 709,778.5 725,780.0 741,777.0 757,777.0 773,781.0 789,778.0 805,780.0 821,788.0 837,781.5 853,780.0 869,772.0 885,772.0 901,775.0 917,777.0 933,775.5 949,775.0 965,771.0 981,771.0 997,766.5 1013,762.0 1029,760.5 1045,759.0 1061,754.5 1077,750.0 1093,747.5 1109,739.0 1125,739.0 1141,739.0 1157,739.0 1173,743.5 1189,745.0 1205,772.0 1221,772.0 1237,770.5 1253,770.5 1269,770.5 1285,770.5 1301,775.0 1317,771.0 1333,770.5" fill="none" stroke="#1e90ff" stroke-width="2" stroke-linejoin="round" shape-rendering="crispEdges"/>
<g shape-rendering="crispEdges" fill="#000">
<rect x="1645" y="55" width="2" height="1"/>
<rect x="1645" y="88" width="2" height="1"/>
<rect x="1645" y="122" width="2" height="1"/>
<rect x="1645" y="155" width="2" height="1"/>
<rect x="1645" y="188" width="2" height="1"/>
<rect x="1645" y="221" width="2" height="1"/>
<rect x="1645" y="255" width="2" height="1"/>
<rect x="1645" y="288" width="2" height="1"/>
<rect x="1645" y="321" width="2" height="1"/>
<rect x="1645" y="354" width="2" height="1"/>
<rect x="1645" y="388" width="2" height="1"/>
<rect x="1645" y="421" width="2" height="1"/>
<rect x="1645" y="454" width="2" height="1"/>
<rect x="1645" y="487" width="2" height="1"/>
<rect x="1645" y="521" width="2" height="1"/>
<rect x="1645" y="554" width="2" height="1"/>
<rect x="1645" y="587" width="2" height="1"/>
<rect x="1645" y="663" width="2" height="1"/>
<rect x="1645" y="594" width="1" height="1"/>
<rect x="1645" y="710" width="1" height="1"/>
<rect x="1645" y="715" width="1" height="1"/>
<rect x="1645" y="820" width="1" height="1"/>
<rect x="5" y="822" width="1" height="3"/>
<rect x="69" y="822" width="1" height="3"/>
<rect x="133" y="822" width="1" height="3"/>
<rect x="197" y="822" width="1" height="3"/>
<rect x="261" y="822" width="1" height="3"/>
<rect x="325" y="822" width="1" height="3"/>
<rect x="389" y="822" width="1" height="3"/>
<rect x="453" y="822" width="1" height="3"/>
<rect x="517" y="822" width="1" height="3"/>
<rect x="581" y="822" width="1" height="3"/>
<rect x="645" y="822" width="1" height="3"/>
<rect x="709" y="822" width="1" height="3"/>
<rect x="773" y="822" width="1" height="3"/>
<rect x="837" y="822" width="1" height="3"/>
<rect x="901" y="822" width="1" height="3"/>
<rect x="965" y="822" width="1" height="3"/>
<rect x="1029" y="822" width="1" height="3"/>
<rect x="1093" y="822" width="1" height="3"/>
<rect x="1157" y="822" width="1" height="3"/>
<rect x="1221" y="822" width="1" height="3"/>
<rect x="1285" y="822" width="1" height="3"/>
</g>
<text transform="matrix(0.93 0 0 1 1650 59)" class="t">0.68070</text>
<text transform="matrix(0.93 0 0 1 1650 92)" class="t">0.67950</text>
<text transform="matrix(0.93 0 0 1 1650 126)" class="t">0.67830</text>
<text transform="matrix(0.93 0 0 1 1650 159)" class="t">0.67710</text>
<text transform="matrix(0.93 0 0 1 1650 192)" class="t">0.67595</text>
<text transform="matrix(0.93 0 0 1 1650 225)" class="t">0.67475</text>
<text transform="matrix(0.93 0 0 1 1650 259)" class="t">0.67355</text>
<text transform="matrix(0.93 0 0 1 1650 292)" class="t">0.67235</text>
<text transform="matrix(0.93 0 0 1 1650 325)" class="t">0.67120</text>
<text transform="matrix(0.93 0 0 1 1650 358)" class="t">0.67000</text>
<text transform="matrix(0.93 0 0 1 1650 392)" class="t">0.66880</text>
<text transform="matrix(0.93 0 0 1 1650 425)" class="t">0.66760</text>
<text transform="matrix(0.93 0 0 1 1650 458)" class="t">0.66645</text>
<text transform="matrix(0.93 0 0 1 1650 491)" class="t">0.66525</text>
<text transform="matrix(0.93 0 0 1 1650 525)" class="t">0.66405</text>
<text transform="matrix(0.93 0 0 1 1650 558)" class="t">0.66285</text>
<text transform="matrix(0.93 0 0 1 1650 591)" class="t">0.66170</text>
<text transform="matrix(0.93 0 0 1 1648 603)" class="t">0.00304</text>
<text transform="matrix(0.93 0 0 1 1648 667)" class="t">0.00</text>
<text transform="matrix(0.93 0 0 1 1648 708)" class="t">-0.00205</text>
<text transform="matrix(0.93 0 0 1 1648 724)" class="t">100</text>
<text transform="matrix(0.93 0 0 1 1648 740)" class="t">80</text>
<text transform="matrix(0.93 0 0 1 1648 771)" class="t">50</text>
<text transform="matrix(0.93 0 0 1 1648 809)" class="t">15</text>
<text transform="matrix(0.93 0 0 1 1648 818)" class="t">0</text>
<g shape-rendering="crispEdges">
<rect x="1646" y="254" width="41" height="11" fill="#ff0000"/>
<rect x="1646" y="286" width="41" height="11" fill="#ff0000"/>
<rect x="1646" y="321" width="41" height="11" fill="#ff8c00"/>
<rect x="1646" y="382" width="41" height="11" fill="#0000ff"/>
<rect x="1646" y="414" width="41" height="11" fill="#0000ff"/>
<rect x="1646" y="341" width="41" height="11" fill="#000"/>
</g>
<text transform="matrix(0.93 0 0 1 1650 263)" class="w">0.67336</text>
<text transform="matrix(0.93 0 0 1 1650 295)" class="w">0.67222</text>
<text transform="matrix(0.93 0 0 1 1650 330)" class="w">0.67097</text>
<text transform="matrix(0.93 0 0 1 1650 391)" class="w">0.66880</text>
<text transform="matrix(0.93 0 0 1 1650 423)" class="w">0.66766</text>
<text transform="matrix(0.93 0 0 1 1650 350)" class="w">0.67031</text>
<polygon points="8,32 15,32 11.5,36" fill="#000"/>
<text transform="matrix(0.95 0 0 1 21 37)" class="t" xml:space="preserve">AUDUSD-,H4&#160; 0.67071 0.67080 0.67030 0.67031</text>
<text transform="matrix(0.962 0 0 1 9 605)" class="t">MACD(12,26,9) 0.000126 0.000982</text>
<text transform="matrix(0.955 0 0 1 9 726)" class="t">RSI(14) 46.3631</text>
<text transform="matrix(0.955 0 0 1 4 834)" class="t">29 Mar 2023</text>
<text transform="matrix(0.955 0 0 1 68 834)" class="t">29 Mar 16:00</text>
<text transform="matrix(0.955 0 0 1 132 834)" class="t">30 Mar 08:00</text>
<text transform="matrix(0.955 0 0 1 196 834)" class="t">31 Mar 00:00</text>
<text transform="matrix(0.955 0 0 1 260 834)" class="t">31 Mar 16:00</text>
<text transform="matrix(0.955 0 0 1 324 834)" class="t">3 Apr 08:00</text>
<text transform="matrix(0.955 0 0 1 388 834)" class="t">4 Apr 00:00</text>
<text transform="matrix(0.955 0 0 1 452 834)" class="t">4 Apr 16:00</text>
<text transform="matrix(0.955 0 0 1 516 834)" class="t">5 Apr 08:00</text>
<text transform="matrix(0.955 0 0 1 580 834)" class="t">6 Apr 00:00</text>
<text transform="matrix(0.955 0 0 1 644 834)" class="t">6 Apr 16:00</text>
<text transform="matrix(0.955 0 0 1 708 834)" class="t">7 Apr 08:00</text>
<text transform="matrix(0.955 0 0 1 772 834)" class="t">10 Apr 00:00</text>
<text transform="matrix(0.955 0 0 1 836 834)" class="t">10 Apr 16:00</text>
<text transform="matrix(0.955 0 0 1 900 834)" class="t">11 Apr 08:00</text>
<text transform="matrix(0.955 0 0 1 964 834)" class="t">12 Apr 00:00</text>
<text transform="matrix(0.955 0 0 1 1028 834)" class="t">12 Apr 16:00</text>
<text transform="matrix(0.955 0 0 1 1092 834)" class="t">13 Apr 08:00</text>
<text transform="matrix(0.955 0 0 1 1156 834)" class="t">14 Apr 00:00</text>
<text transform="matrix(0.955 0 0 1 1220 834)" class="t">14 Apr 16:00</text>
<text transform="matrix(0.955 0 0 1 1284 834)" class="t">17 Apr 08:00</text>
</svg>
</body></html>
